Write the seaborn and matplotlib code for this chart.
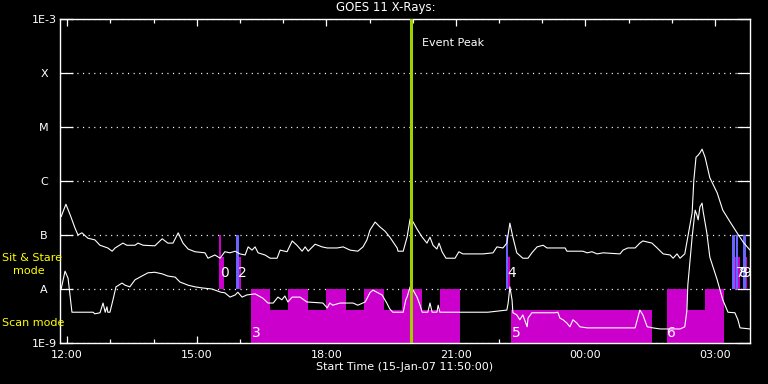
import numpy as np
import pandas as pd
import matplotlib
matplotlib.use("Agg")
import matplotlib.pyplot as plt
import seaborn as sns
from matplotlib.ticker import FixedLocator, NullLocator

# ---------------- data (time in hours from 15-Jan-07 00:00, log10 flux W/m^2) ----
long_t = [11.86, 11.97, 12.07, 12.18, 12.25, 12.34, 12.48, 12.64, 12.76, 12.94,
          13.04, 13.11, 13.29, 13.38, 13.57, 13.64, 13.76, 14.03, 14.20, 14.33,
          14.45, 14.57, 14.68, 14.80, 14.96, 15.19, 15.26, 15.42, 15.54, 15.65,
          15.77, 15.89, 16.00, 16.12, 16.19, 16.28, 16.35, 16.42, 16.58, 16.70,
          16.86, 16.93, 17.09, 17.21, 17.32, 17.44, 17.51, 17.58, 17.74, 17.90,
          18.02, 18.25, 18.39, 18.55, 18.73, 18.85, 18.94, 19.01, 19.13, 19.24,
          19.36, 19.47, 19.64, 19.66, 19.78, 19.87, 19.94, 20.01, 20.10, 20.22,
          20.33, 20.40, 20.47, 20.56, 20.61, 20.68, 20.77, 20.98, 21.07, 21.16,
          21.63, 21.86, 21.95, 22.09, 22.18, 22.25, 22.32, 22.41, 22.55, 22.67,
          22.76, 22.88, 23.02, 23.11, 23.25, 23.53, 23.57, 23.94, 24.04, 24.15,
          24.27, 24.41, 24.80, 24.87, 24.98, 25.15, 25.26, 25.33, 25.54, 25.66,
          25.80, 25.96, 26.03, 26.12, 26.19, 26.30, 26.37, 26.47, 26.51, 26.56,
          26.61, 26.65, 26.70, 26.77, 26.88, 27.05, 27.18, 27.35, 27.51, 27.65,
          27.81]
long_logf = [-6.66, -6.43, -6.63, -6.87, -7.00, -6.96, -7.06, -7.09, -7.19, -7.24,
             -7.30, -7.24, -7.15, -7.19, -7.19, -7.15, -7.19, -7.20, -7.07, -7.15,
             -7.15, -6.96, -7.15, -7.26, -7.31, -7.33, -7.43, -7.37, -7.43, -7.31,
             -7.33, -7.30, -7.35, -7.37, -7.22, -7.28, -7.22, -7.33, -7.37, -7.43,
             -7.43, -7.28, -7.31, -7.11, -7.19, -7.30, -7.22, -7.30, -7.17, -7.22,
             -7.24, -7.24, -7.22, -7.28, -7.30, -7.22, -7.09, -6.91, -6.76, -6.85,
             -6.93, -7.04, -7.24, -7.30, -7.30, -7.04, -6.70, -6.76, -6.89, -7.04,
             -7.15, -7.04, -7.19, -7.26, -7.15, -7.31, -7.43, -7.43, -7.31, -7.35,
             -7.35, -7.33, -7.22, -7.24, -7.15, -6.78, -7.04, -7.33, -7.43, -7.43,
             -7.33, -7.22, -7.19, -7.24, -7.24, -7.24, -7.30, -7.30, -7.33, -7.31,
             -7.35, -7.33, -7.35, -7.28, -7.24, -7.24, -7.15, -7.11, -7.15, -7.24,
             -7.35, -7.37, -7.43, -7.35, -7.43, -7.35, -7.04, -6.59, -5.98, -5.56,
             -5.52, -5.48, -5.41, -5.56, -5.94, -6.22, -6.54, -6.76, -6.96, -7.13,
             -7.28]

short_t = [11.86, 11.95, 12.02, 12.07, 12.11, 12.60, 12.64, 12.76, 12.83, 12.88,
           12.92, 12.94, 12.99, 13.06, 13.13, 13.27, 13.34, 13.45, 13.57, 13.73,
           13.87, 14.03, 14.20, 14.33, 14.50, 14.61, 14.80, 14.96, 15.12, 15.35,
           15.56, 15.65, 15.77, 15.89, 15.95, 16.05, 16.16, 16.35, 16.53, 16.65,
           16.77, 16.88, 16.97, 17.04, 17.11, 17.21, 17.39, 17.55, 17.92, 18.02,
           18.08, 18.15, 18.32, 18.62, 18.73, 18.90, 19.01, 19.08, 19.17, 19.29,
           19.40, 19.47, 19.54, 19.78, 19.84, 19.87, 19.94, 20.01, 20.10, 20.17,
           20.22, 20.35, 20.40, 20.45, 20.56, 20.59, 20.63, 21.74, 22.18, 22.21,
           22.25, 22.30, 22.32, 22.41, 22.48, 22.55, 22.65, 22.67, 22.76, 23.29,
           23.36, 23.41, 23.48, 23.57, 23.64, 23.71, 23.80, 23.87, 24.04, 25.15,
           25.26, 25.33, 25.43, 25.56, 25.73, 26.19, 26.30, 26.35, 26.37, 26.47,
           26.54, 26.58, 26.61, 26.65, 26.70, 26.72, 26.81, 26.88, 27.05, 27.18,
           27.30, 27.46, 27.53, 27.58, 27.81]
short_logf = [-8.00, -7.67, -7.80, -8.15, -8.43, -8.43, -8.46, -8.44, -8.26, -8.43,
              -8.33, -8.43, -8.43, -8.20, -7.96, -7.89, -7.93, -7.96, -7.83, -7.76,
              -7.70, -7.69, -7.72, -7.76, -7.78, -7.87, -7.93, -7.96, -7.98, -8.00,
              -8.06, -8.07, -8.15, -8.11, -8.06, -8.15, -8.11, -8.09, -8.17, -8.26,
              -8.26, -8.15, -8.20, -8.13, -8.24, -8.15, -8.15, -8.24, -8.26, -8.35,
              -8.26, -8.30, -8.26, -8.26, -8.30, -8.24, -8.07, -8.02, -8.06, -8.11,
              -8.26, -8.37, -8.43, -8.43, -8.20, -8.15, -7.96, -8.02, -8.15, -8.30,
              -8.43, -8.43, -8.26, -8.43, -8.43, -8.30, -8.43, -8.43, -8.39, -8.26,
              -7.96, -8.20, -8.44, -8.48, -8.57, -8.48, -8.70, -8.54, -8.44, -8.44,
              -8.43, -8.54, -8.57, -8.63, -8.70, -8.57, -8.63, -8.70, -8.72, -8.72,
              -8.39, -8.48, -8.70, -8.72, -8.74, -8.74, -8.70, -8.39, -7.93, -7.04,
              -6.54, -6.63, -6.72, -6.48, -6.41, -6.54, -6.96, -7.41, -7.83, -8.20,
              -8.43, -8.44, -8.57, -8.72, -8.74]

# Scan mode intervals (bottom at 1E-9)
scan_start = [16.26, 16.70, 17.12, 17.57, 17.99, 18.46, 18.87, 19.34, 19.75, 20.21,
              20.63, 22.28, 25.89, 26.35, 26.77]
scan_end = [16.70, 17.12, 17.57, 17.99, 18.46, 18.87, 19.34, 19.75, 20.21, 20.63,
            21.09, 25.54, 26.35, 26.77, 27.21]
scan_top_log = [-8.0, -8.39, -8.0, -8.39, -8.0, -8.39, -8.0, -8.39, -8.0, -8.39,
                -8.0, -8.39, -8.0, -8.39, -8.0]

# Sit & Stare intervals (bottom at A level)
ss_start = [15.515, 15.515, 15.908, 15.97, 22.16, 22.206, 27.392, 27.455, 27.485,
            27.524, 27.647, 27.709]
ss_end = [15.56, 15.63, 15.97, 16.024, 22.206, 22.25, 27.455, 27.485, 27.524,
          27.578, 27.709, 27.74]
ss_top_log = [-7.0, -7.41, -7.0, -7.41, -7.0, -7.41, -7.0, -7.41, -7.0, -7.41,
              -7.0, -7.41]
ss_kind = ["m", "m", "b", "m", "b", "m", "b", "m", "b", "m", "b", "m"]

# observation number labels
obs_labels = ["0", "2", "4", "7", "8", "9", "3", "5", "6"]
obs_t = [15.54, 15.95, 22.18, 27.485, 27.55, 27.62, 16.28, 22.30, 25.89]
obs_logf = [-7.70, -7.70, -7.70, -7.70, -7.70, -7.70, -8.81, -8.81, -8.81]

event_peak_t = 19.953
t_start = 11.0 + 50.0 / 60.0
t_stop = 27.81

y_ticks = [1e-9, 1e-8, 1e-7, 1e-6, 1e-5, 1e-4, 1e-3]
y_ticklabels = ["1E-9", "A", "B", "C", "M", "X", "1E-3"]
x_major = [12, 15, 18, 21, 24, 27]
x_minor = list(range(12, 28))

# ---------------- plot ----------------
sns.set_theme(style="ticks", rc={
    "axes.facecolor": "black", "figure.facecolor": "black",
    "axes.edgecolor": "white", "text.color": "white",
    "xtick.color": "white", "ytick.color": "white",
})
plt.rcParams["font.family"] = ["DejaVu Sans"]

W, H = 768, 384
fig = plt.figure(figsize=(W / 100, H / 100), dpi=100)
ax = fig.add_axes([60 / W, 41 / H, 690 / W, 324 / H])
ax.set_yscale("log")

palette = {"m": "#cc00cc", "b": "#6666ff"}

for s, e, top in zip(scan_start, scan_end, scan_top_log):
    ax.bar(s, 10 ** top - 1e-9, width=e - s, bottom=1e-9, align="edge",
           color=palette["m"], linewidth=0, zorder=1)
for s, e, top, k in zip(ss_start, ss_end, ss_top_log, ss_kind):
    ax.bar(s, 10 ** top - 1e-8, width=e - s, bottom=1e-8, align="edge",
           color=palette[k], linewidth=0, zorder=1)

df_long = pd.DataFrame({"t": long_t, "flux": 10 ** np.array(long_logf)})
df_short = pd.DataFrame({"t": short_t, "flux": 10 ** np.array(short_logf)})
sns.lineplot(data=df_long, x="t", y="flux", ax=ax, color="white", lw=0.8,
             estimator=None, sort=False, zorder=3)
sns.lineplot(data=df_short, x="t", y="flux", ax=ax, color="white", lw=0.8,
             estimator=None, sort=False, zorder=3)

ax.axvline(event_peak_t, color="#a0d000", lw=2.2, zorder=4)
ax.annotate("Event Peak", xy=(event_peak_t, 1.0), xycoords=("data", "axes fraction"),
            xytext=(8, -17.3), textcoords="offset points", color="white",
            fontsize=8, ha="left", va="center")

for lab, t, lf in zip(obs_labels, obs_t, obs_logf):
    ax.text(t, 10 ** lf, lab, color="white", fontsize=10, ha="left", va="center",
            zorder=5)

ax.set_xlim(t_start, t_stop)
ax.set_ylim(1e-9, 1e-3)

ax.yaxis.set_major_locator(FixedLocator(y_ticks))
ax.yaxis.set_minor_locator(NullLocator())
ax.set_yticklabels(y_ticklabels)
for lab in ax.get_yticklabels():
    lab.set_horizontalalignment("center")
ax.xaxis.set_major_locator(FixedLocator(x_major))
ax.xaxis.set_minor_locator(FixedLocator(x_minor))
ax.set_xticklabels(["%02d:00" % (h % 24) for h in x_major])

ax.tick_params(axis="y", which="major", direction="in", length=9.5, width=0.9,
               left=True, right=True, pad=11.5, labelsize=8, colors="white")
ax.tick_params(axis="x", which="major", direction="in", length=5, width=0.9,
               top=True, bottom=True, pad=5.4, labelsize=8, colors="white")
ax.tick_params(axis="x", which="minor", direction="in", length=3, width=0.9,
               top=True, bottom=True, colors="white")

ax.grid(axis="y", which="major", color="white", linestyle=(0, (0.9, 3.6)), lw=0.9)
for sp in ax.spines.values():
    sp.set_color("white")
    sp.set_linewidth(1.0)
ax.set_xlabel("")
ax.set_ylabel("")

fig.text(386 / W, 1 - 8 / H, "GOES 11 X-Rays:", ha="center", va="center",
         color="white", fontsize=8.5)
fig.text(405 / W, 1 - 367 / H, "Start Time (15-Jan-07 11:50:00)", ha="center",
         va="center", color="white", fontsize=8)
fig.text(2 / W, 1 - 258 / H, "Sit & Stare", ha="left", va="center",
         color="#ffff00", fontsize=8)
fig.text(13 / W, 1 - 271 / H, "mode", ha="left", va="center",
         color="#ffff00", fontsize=8)
fig.text(2 / W, 1 - 323 / H, "Scan mode", ha="left", va="center",
         color="#ffff00", fontsize=8)

fig.savefig("out.png", dpi=100, facecolor="black")
